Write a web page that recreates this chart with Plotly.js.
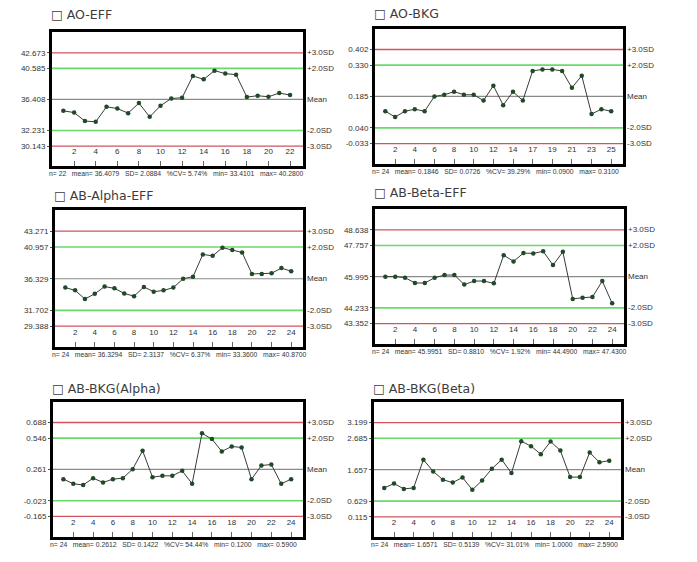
<!DOCTYPE html>
<html>
<head>
<meta charset="utf-8">
<script src="https://cdn.plot.ly/plotly-3.0.1.min.js"></script>
<style>
  body { margin: 0; background: #fff; }
  #chart { width: 697px; height: 562px; }
</style>
</head>
<body>
<div id="chart"></div>
<script>
// QC control charts

const aoEffIds = [1,2,3,4,5,6,7,8,9,10,11,12,13,14,15,16,17,18,19,20,21,22];
const aoEffVals = [34.88,34.65,33.50,33.41,35.42,35.19,34.57,35.92,34.07,35.56,36.54,
                   36.64,39.57,39.11,40.28,39.88,39.74,36.73,36.91,36.77,37.27,37.00];
const aoEffLimits = [42.673, 40.585, 36.408, 32.231, 30.143];
const aoEffStats = ['22', '36.4079', '2.0884', '5.74%', '33.4101', '40.2800'];

const aoBkgIds = [1,2,3,4,5,6,7,8,9,10,11,12,13,14,16,17,18,19,20,21,22,23,24,25];
const aoBkgVals = [0.117,0.090,0.117,0.126,0.117,0.185,0.193,0.207,0.193,0.193,0.166,0.235,
                   0.145,0.207,0.166,0.303,0.310,0.310,0.303,0.225,0.281,0.104,0.126,0.117];
const aoBkgLimits = [0.402, 0.330, 0.185, 0.040, -0.033];
const aoBkgStats = ['24', '0.1846', '0.0726', '39.29%', '0.0900', '0.3100'];

const alphaEffIds = [1,2,3,4,5,6,7,8,9,10,11,12,13,14,15,16,17,18,19,20,21,22,23,24];
const alphaEffVals = [35.03,34.63,33.36,34.13,35.18,34.93,34.18,33.78,35.13,34.43,34.63,35.03,
                      36.33,36.63,39.88,39.67,40.87,40.52,40.17,37.03,37.03,37.13,37.88,37.43];
const alphaEffLimits = [43.271, 40.957, 36.329, 31.702, 29.388];
const alphaEffStats = ['24', '36.3294', '2.3137', '6.37%', '33.3600', '40.8700'];

const betaEffIds = [1,2,3,4,5,6,7,8,9,10,11,12,13,14,15,16,17,18,19,20,21,22,23,24];
const betaEffVals = [46.00,46.00,45.94,45.64,45.64,45.94,46.09,46.09,45.55,45.75,45.75,45.62,
                     47.21,46.86,47.33,47.31,47.43,46.65,47.40,44.74,44.81,44.85,45.75,44.49];
const betaEffLimits = [48.638, 47.757, 45.995, 44.233, 43.352];
const betaEffStats = ['24', '45.9951', '0.8810', '1.92%', '44.4900', '47.4300'];

const alphaBkgIds = [1,2,3,4,5,6,7,8,9,10,11,12,13,14,15,16,17,18,19,20,21,22,23,24];
const alphaBkgVals = [0.173,0.131,0.120,0.182,0.143,0.173,0.182,0.264,0.431,0.191,0.203,0.203,
                      0.249,0.131,0.590,0.537,0.425,0.470,0.461,0.173,0.297,0.306,0.131,0.173];
const alphaBkgLimits = [0.688, 0.546, 0.261, -0.023, -0.165];
const alphaBkgStats = ['24', '0.2612', '0.1422', '54.44%', '0.1200', '0.5900'];

const betaBkgIds = [1,2,3,4,5,6,7,8,9,10,11,12,13,14,15,16,17,18,19,20,21,22,23,24];
const betaBkgVals = [1.062,1.205,1.030,1.062,1.987,1.602,1.327,1.238,1.404,1.000,1.305,1.690,
                     1.987,1.547,2.590,2.428,2.164,2.580,2.285,1.415,1.415,2.219,1.899,1.954];
const betaBkgLimits = [3.199, 2.685, 1.657, 0.629, 0.115];
const betaBkgStats = ['24', '1.6571', '0.5139', '31.01%', '1.0000', '2.5900'];

const limitNames = ['+3.0SD', '+2.0SD', 'Mean', '-2.0SD', '-3.0SD'];
const statNames = ['n=', 'mean=', 'SD=', '%CV=', 'min=', 'max='];

// pixel boxes of each plot frame: [left, right, top, bottom], title gap above frame
const panels = [
  {title: 'AO-EFF', ids: aoEffIds, vals: aoEffVals, lim: aoEffLimits, stats: aoEffStats,
   box: [52, 303, 32, 166], tgap: 18},
  {title: 'AO-BKG', ids: aoBkgIds, vals: aoBkgVals, lim: aoBkgLimits, stats: aoBkgStats,
   box: [375, 623, 28.5, 163.5], tgap: 15},
  {title: 'AB-Alpha-EFF', ids: alphaEffIds, vals: alphaEffVals, lim: alphaEffLimits, stats: alphaEffStats,
   box: [55, 303, 210, 346.5], tgap: 15},
  {title: 'AB-Beta-EFF', ids: betaEffIds, vals: betaEffVals, lim: betaEffLimits, stats: betaEffStats,
   box: [375, 624, 209, 343.5], tgap: 16},
  {title: 'AB-BKG(Alpha)', ids: alphaBkgIds, vals: alphaBkgVals, lim: alphaBkgLimits, stats: alphaBkgStats,
   box: [53, 303, 401.5, 536.5], tgap: 13.5},
  {title: 'AB-BKG(Beta)', ids: betaBkgIds, vals: betaBkgVals, lim: betaBkgLimits, stats: betaBkgStats,
   box: [374, 621, 401.5, 537], tgap: 13.5}
];

const W = 697, H = 562;
const limitColors = ['#d2545f', '#6ad86a', '#8a8a8a', '#6ad86a', '#d2545f'];
const limitWidths = [1.3, 1.6, 1.2, 1.6, 1.3];

let data = [];
let layout = {
  width: W,
  height: H,
  margin: {l: 0, r: 0, t: 0, b: 0},
  paper_bgcolor: '#ffffff',
  plot_bgcolor: '#ffffff',
  showlegend: false,
  font: {family: 'Liberation Sans, Arial, sans-serif', color: '#333'},
  shapes: [],
  annotations: []
};

panels.forEach(function(p, i) {
  let n = i === 0 ? '' : String(i + 1);
  let xr = 'x' + n, yr = 'y' + n;
  let pos = p.ids.map(function(d, k) { return k + 1; });

  data.push({
    x: pos,
    y: p.vals,
    xaxis: xr,
    yaxis: yr,
    type: 'scatter',
    mode: 'lines+markers',
    line: {color: '#3a3a3a', width: 1},
    marker: {color: '#1f4a25', size: 4.5},
    hoverinfo: 'y'
  });

  let tv = [], tt = [];
  pos.forEach(function(v, k) {
    if (v % 2 === 0) { tv.push(v); tt.push(String(p.ids[k])); }
  });

  let mean = p.lim[2];
  let sd = (p.lim[0] - mean) / 3;

  layout['xaxis' + n] = {
    domain: [p.box[0] / W, p.box[1] / W],
    anchor: yr,
    range: [-0.05, pos.length + 1.2],
    tickvals: tv,
    ticktext: tt,
    ticks: 'inside',
    ticklen: 5,
    tickcolor: '#666',
    ticklabelposition: 'inside',
    ticklabelstandoff: 4,
    tickfont: {size: 8, color: '#333'},
    showgrid: false,
    zeroline: false,
    showline: true,
    mirror: true,
    linecolor: '#000',
    linewidth: 3,
    fixedrange: true,
    automargin: false
  };
  layout['yaxis' + n] = {
    domain: [1 - p.box[3] / H, 1 - p.box[2] / H],
    anchor: xr,
    range: [mean - 4.28 * sd, mean + 4.34 * sd],
    tickvals: p.lim,
    ticktext: p.lim.map(function(v) { return v.toFixed(3); }),
    ticks: 'outside',
    ticklen: 2,
    tickcolor: '#555',
    tickfont: {size: 8, color: '#333'},
    showgrid: false,
    zeroline: false,
    showline: true,
    mirror: true,
    linecolor: '#000',
    linewidth: 3,
    fixedrange: true,
    automargin: false
  };

  p.lim.forEach(function(v, k) {
    layout.shapes.push({
      type: 'line', layer: 'below',
      xref: xr + ' domain', yref: yr,
      x0: 0, x1: 1, y0: v, y1: v,
      line: {color: limitColors[k], width: limitWidths[k]}
    });
    layout.annotations.push({
      xref: xr + ' domain', yref: yr,
      x: 1, y: v, xanchor: 'left', yanchor: 'middle', xshift: 2,
      text: limitNames[k], showarrow: false,
      font: {size: 8, color: '#333'}
    });
  });

  // title
  layout.annotations.push({
    xref: xr + ' domain', yref: yr + ' domain',
    x: 0, y: 1, xanchor: 'left', yanchor: 'middle', xshift: -3, yshift: p.tgap,
    text: '\u25a1 ' + p.title, showarrow: false,
    font: {family: 'DejaVu Sans, sans-serif', size: 12.5, color: '#3c3c3c'}
  });

  // footer stats
  let sp = '\u00a0\u00a0\u00a0';
  let foot = statNames.map(function(s, k) { return s + '\u00a0' + p.stats[k]; }).join(sp);
  layout.annotations.push({
    xref: xr + ' domain', yref: yr + ' domain',
    x: 0, y: 0, xanchor: 'left', yanchor: 'top', xshift: -5, yshift: -2,
    text: foot, showarrow: false,
    font: {size: 6.8, color: '#333'}
  });
});

Plotly.newPlot('chart', data, layout, {displayModeBar: false, staticPlot: true});
</script>
</body>
</html>
